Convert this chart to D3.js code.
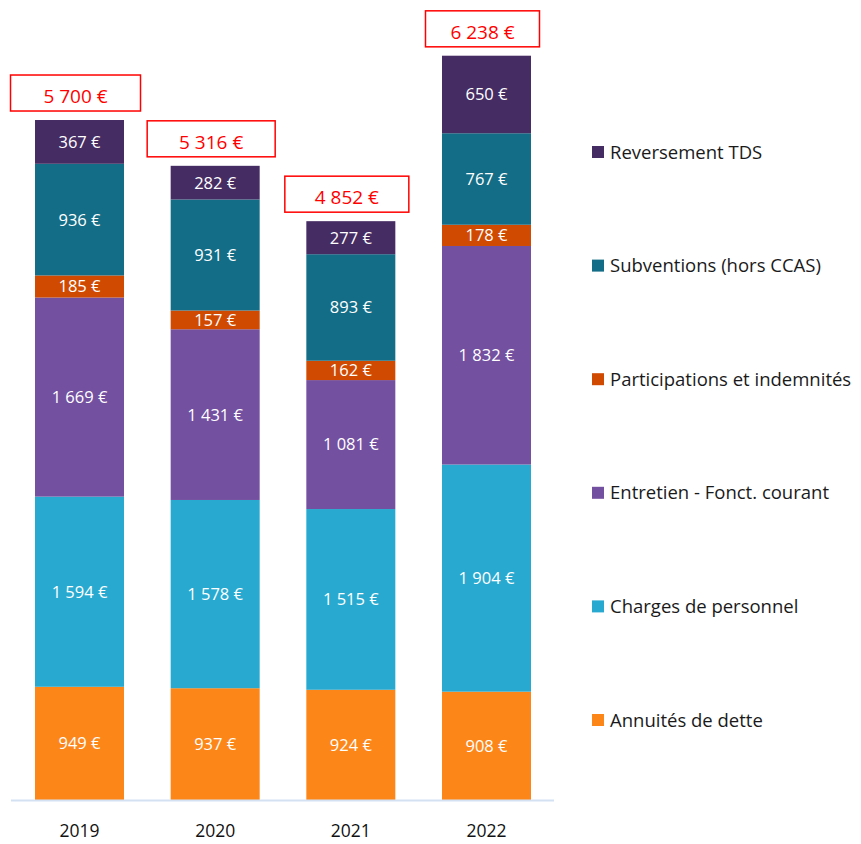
<!DOCTYPE html>
<html>
<head>
<meta charset="utf-8">
<script src="https://cdn.jsdelivr.net/npm/d3@7"></script>
<style>
  html, body { margin: 0; padding: 0; background: #fff; }
  svg { display: block; font-family: "Open Sans", "Noto Sans", sans-serif; }
</style>
</head>
<body>
<svg id="chart" width="861" height="844"></svg>
<script>
const years = ["2019", "2020", "2021", "2022"];
const seriesNames = ["Annuités de dette", "Charges de personnel", "Entretien - Fonct. courant",
                     "Participations et indemnités", "Subventions (hors CCAS)", "Reversement TDS"];
const annuites      = [949, 937, 924, 908];
const personnel     = [1594, 1578, 1515, 1904];
const entretien     = [1669, 1431, 1081, 1832];
const participations= [185, 157, 162, 178];
const subventions   = [936, 931, 893, 767];
const reversement   = [367, 282, 277, 650];
const totals        = [5700, 5316, 4852, 6238];
const colors = ["#FD8619", "#28A9D0", "#7350A0", "#D04A02", "#136D86", "#452C63"];
const boxWidths = [130, 128, 124, 114];

const seriesValues = [annuites, personnel, entretien, participations, subventions, reversement];
const rows = years.map((y, i) => {
  const r = { year: y };
  seriesNames.forEach((s, k) => r[s] = seriesValues[k][i]);
  return r;
});

const svg = d3.select("#chart");
const x = d3.scaleBand().domain(years).range([11, 555]).paddingInner(0.344).paddingOuter(0.177);
const y = d3.scaleLinear().domain([0, 6706]).range([800, 0]);

const stack = d3.stack().keys(seriesNames)(rows);
const fmt = v => d3.format(",")(v).replace(/,/g, " ") + " €";

const layers = svg.selectAll("g.layer").data(stack).join("g")
  .attr("class", "layer").attr("fill", (d, i) => colors[i]);

layers.selectAll("rect").data(d => d).join("rect")
  .attr("x", d => x(d.data.year))
  .attr("width", x.bandwidth())
  .attr("y", d => y(d[1]))
  .attr("height", d => y(d[0]) - y(d[1]));

layers.each(function(layer) {
  d3.select(this).selectAll("text").data(layer).join("text")
    .attr("x", d => x(d.data.year) + x.bandwidth() / 2)
    .attr("y", d => (y(d[0]) + y(d[1])) / 2)
    .attr("dy", "0.36em")
    .attr("text-anchor", "middle")
    .attr("fill", "#fff")
    .attr("font-size", 16.5)
    .text(d => fmt(d[1] - d[0]));
});

// Axis line
svg.append("line").attr("x1", 11).attr("x2", 554).attr("y1", 800.5).attr("y2", 800.5)
  .attr("stroke", "#D3E1F3").attr("stroke-width", 2);

const xAxis = svg.append("g").attr("transform", "translate(0,800)")
  .call(d3.axisBottom(x).tickSize(0).tickPadding(25));
xAxis.select(".domain").remove();
xAxis.selectAll("text").attr("font-size", 17.5).attr("fill", "#111")
  .attr("font-family", "'Open Sans', sans-serif");

// Total boxes
const totalG = svg.selectAll("g.total").data(years).join("g").attr("class", "total");
totalG.append("rect")
  .attr("x", (d, i) => x(d) + x.bandwidth() / 2 - 4 - boxWidths[i] / 2)
  .attr("y", (d, i) => y(totals[i]) - 9 - 36)
  .attr("width", (d, i) => boxWidths[i])
  .attr("height", 36)
  .attr("fill", "#fff").attr("stroke", "#FF0000").attr("stroke-width", 1.5);
totalG.append("text")
  .attr("x", d => x(d) + x.bandwidth() / 2 - 4)
  .attr("y", (d, i) => y(totals[i]) - 9 - 36 / 2 + 3)
  .attr("dy", "0.36em")
  .attr("text-anchor", "middle")
  .attr("fill", "#FF0000")
  .attr("font-size", 19)
  .text((d, i) => fmt(totals[i]));

// Legend
const legendOrder = seriesNames.map((s, i) => ({ name: s, color: colors[i] })).reverse();
const ly = d3.scalePoint().domain(legendOrder.map(d => d.name)).range([152, 720]);
const leg = svg.selectAll("g.leg").data(legendOrder).join("g").attr("class", "leg")
  .attr("transform", d => `translate(592,${ly(d.name)})`);
leg.append("rect").attr("x", 0).attr("y", -6).attr("width", 12).attr("height", 12)
  .attr("fill", d => d.color);
leg.append("text").attr("x", 18).attr("y", 0).attr("dy", "0.36em")
  .attr("font-size", 18.5).attr("fill", "#1a1a1a").text(d => d.name);
</script>
</body>
</html>
